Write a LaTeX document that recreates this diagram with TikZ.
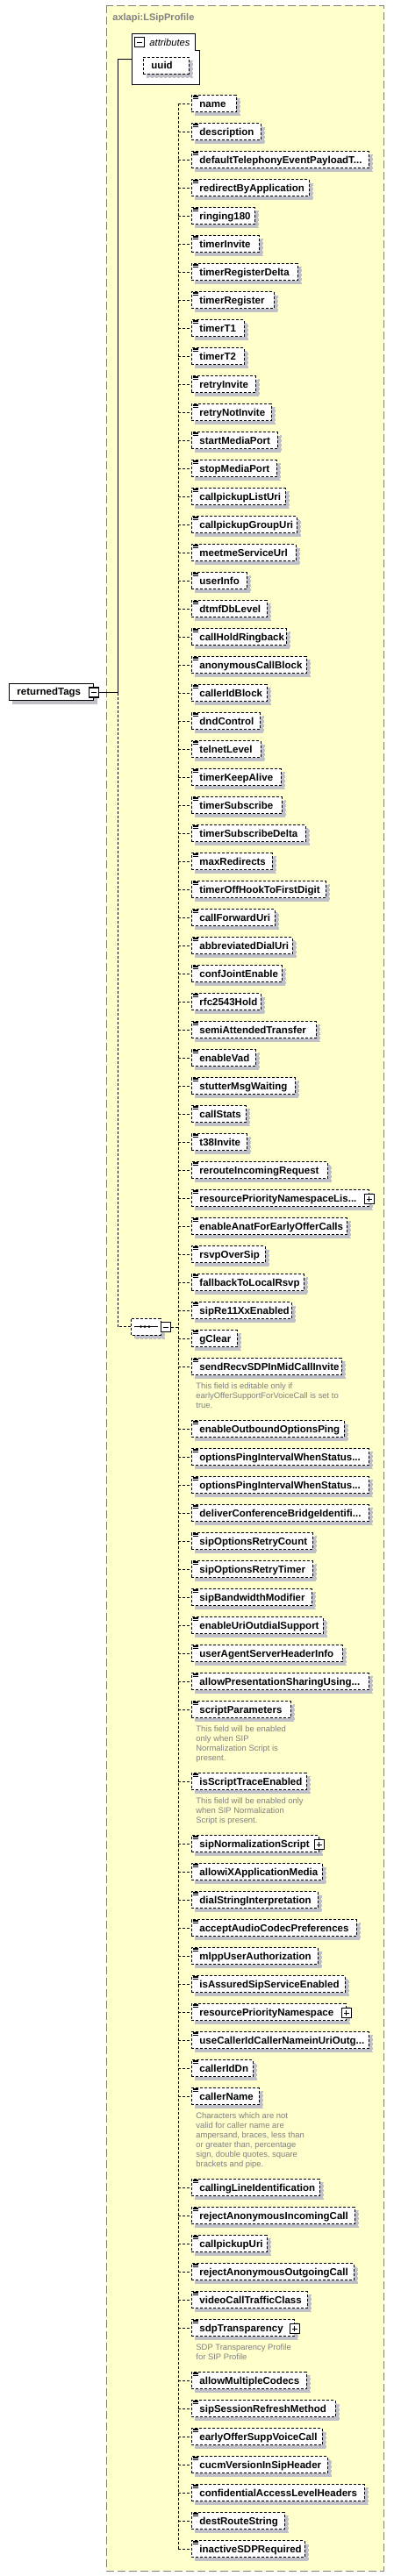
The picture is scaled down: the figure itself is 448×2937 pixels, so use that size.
\documentclass[tikz,border=0pt]{standalone}
\usepackage{fontspec}
\setmainfont{Liberation Sans}
\usetikzlibrary{shadows, shapes.misc}

\definecolor{boxyellow}{RGB}{255,255,204}
\definecolor{framegrey}{RGB}{128,128,128}
\definecolor{shadowgrey}{RGB}{192,192,200}
\definecolor{notegrey}{RGB}{128,128,128}
\newcommand{\cutdots}{...}

\tikzset{
  boxshadow/.style={drop shadow={shadow xshift=4pt, shadow yshift=-4pt, fill=shadowgrey, draw=shadowgrey, opacity=1}},
  elembox/.style={draw, dash pattern=on 3pt off 2pt, fill=white, minimum height=19pt, inner sep=0pt, anchor=west, boxshadow},
  elemtext/.style={font=\fontsize{11.5}{13}\selectfont\bfseries, inner sep=0pt, anchor=base west},
  notetext/.style={font=\fontsize{9.4}{11}\selectfont, text=notegrey, inner sep=0pt, anchor=north west, align=left},
  conn/.style={dash pattern=on 3pt off 2pt},
  expbox/.style={draw, line width=1.1pt, fill=white, minimum size=11pt, inner sep=0pt},
  minusbox/.style={expbox, path picture={\draw[line width=0.9pt] ([xshift=2.5pt]path picture bounding box.west) -- ([xshift=-2.5pt]path picture bounding box.east);}},
  plusbox/.style={expbox, path picture={\draw[line width=0.9pt] ([xshift=2.5pt]path picture bounding box.west) -- ([xshift=-2.5pt]path picture bounding box.east) ([yshift=-2.5pt]path picture bounding box.north) -- ([yshift=2.5pt]path picture bounding box.south);}},
}

\begin{document}
\begin{tikzpicture}[x=1pt, y=-1pt, line width=0.9pt]
        \useasboundingbox (0,0) rectangle (448,2937);

        \draw[framegrey, fill=boxyellow, dash pattern=on 9pt off 4pt] (121,6) rectangle (437,2931); %complex type frame
        \node[font=\fontsize{11}{13}\selectfont\bfseries, text=framegrey, inner sep=0pt, anchor=base west] (title) at (128,23.3) {axlapi:LSipProfile};

        %attributes
        \draw[fill=white] (150,38) -- (222,38) -- (222,57) -- (227,57) -- (227,96) -- (150,96) -- cycle;
        \coordinate (attr) at (150,67);
        \node[minusbox] (attrminus) at (158.8,48.3) {};
        \node[font=\fontsize{11.2}{13}\selectfont\itshape, inner sep=0pt, anchor=base west] (attrlbl) at (170,52.3) {attributes};
        \node[elembox, minimum width=52pt] (uuid) at (163,74.5) {};
        \node[elemtext] (uuidtxt) at ([shift={(9,4.3)}]uuid.west) {uuid};

        %root element
        \node[draw, fill=white, minimum width=96pt, minimum height=19pt, inner sep=0pt, anchor=west, boxshadow] (root) at (10,788.5) {};
        \node[elemtext] (roottxt) at ([shift={(9,4.3)}]root.west) {returnedTags};
        \node[minusbox] (rootminus) at ([yshift=-1pt]root.east) {};

        %sequence
        \node[draw, conn, fill=white, chamfered rectangle, chamfered rectangle xsep=5pt, minimum width=34pt, minimum height=19pt, inner sep=0pt, anchor=west, boxshadow] (seq) at (149,1512.5) {};
        \draw[line width=0.8pt] ([xshift=4pt]seq.west) -- ([xshift=31pt]seq.west);
        \foreach \dx in {11.7,16,21} \fill ([shift={(\dx,0)}]seq.west) circle (1.5pt);
        \node[minusbox] (seqminus) at ([shift={(5.5,0.5)}]seq.east) {};

        \coordinate (trunk) at (134,0);
        \coordinate (spine) at (203,0);

        %child elements: label/width/y
        \foreach \lbl/\w/\y [count=\i] in {
            name/51/118, description/79/150, defaultTelephonyEventPayloadT\cutdots/202/182,
            redirectByApplication/134/214, ringing180/72/246, timerInvite/77/278,
            timerRegisterDelta/121/310, timerRegister/94/342, timerT1/60/374,
            timerT2/60/406, retryInvite/73/438, retryNotInvite/91/470,
            startMediaPort/98/502, stopMediaPort/97/534, callpickupListUri/107/566,
            callpickupGroupUri/120/598, meetmeServiceUrl/119/630, userInfo/63/662,
            dtmfDbLevel/86/694, callHoldRingback/108/726, anonymousCallBlock/131/758,
            callerIdBlock/86/790, dndControl/78/822, telnetLevel/79/854,
            timerKeepAlive/102/886, timerSubscribe/103/918, timerSubscribeDelta/130/950,
            maxRedirects/92/982, timerOffHookToFirstDigit/153/1014, callForwardUri/95/1046,
            abbreviatedDialUri/115/1078, confJointEnable/103/1110, rfc2543Hold/79/1142,
            semiAttendedTransfer/142/1174, enableVad/73/1206, stutterMsgWaiting/118/1238,
            callStats/62/1270, t38Invite/63/1302, rerouteIncomingRequest/155/1334,
            resourcePriorityNamespaceLis\cutdots/202/1366, enableAnatForEarlyOfferCalls/177/1398, rsvpOverSip/84/1430,
            fallbackToLocalRsvp/128/1462, sipRe11XxEnabled/114/1494, gClear/52/1526,
            sendRecvSDPInMidCallInvite/171/1558, enableOutboundOptionsPing/174/1629, optionsPingIntervalWhenStatus\cutdots/202/1661,
            optionsPingIntervalWhenStatus\cutdots/202/1693, deliverConferenceBridgeIdentifi\cutdots/202/1725, sipOptionsRetryCount/138/1757,
            sipOptionsRetryTimer/138/1789, sipBandwidthModifier/137/1821, enableUriOutdialSupport/150/1853,
            userAgentServerHeaderInfo/172/1885, allowPresentationSharingUsing\cutdots/202/1917, scriptParameters/113/1949,
            isScriptTraceEnabled/131/2031, sipNormalizationScript/145/2102, allowiXApplicationMedia/149/2134,
            dialStringInterpretation/144/2166, acceptAudioCodecPreferences/188/2198, mlppUserAuthorization/144/2230,
            isAssuredSipServiceEnabled/175/2262, resourcePriorityNamespace/176/2294, useCallerIdCallerNameinUriOutg\cutdots/202/2326,
            callerIdDn/70/2358, callerName/77/2390, callingLineIdentification/146/2494,
            rejectAnonymousIncomingCall/186/2526, callpickupUri/86/2558, rejectAnonymousOutgoingCall/185/2590,
            videoCallTrafficClass/132/2622, sdpTransparency/117/2654, allowMultipleCodecs/131/2714,
            sipSessionRefreshMethod/164/2746, earlyOfferSuppVoiceCall/149/2778, cucmVersionInSipHeader/155/2810,
            confidentialAccessLevelHeaders/197/2842, destRouteString/106/2874, inactiveSDPRequired/129/2906}{
            \node[elembox, minimum width=\w pt] (e\i) at (218,\y) {};
            \node[elemtext] (t\i) at ([shift={(9,4.3)}]e\i.west) {\lbl};
            \foreach \d in {1,2.6,4.2} \draw[line width=0.6pt] ([shift={(2,\d)}]e\i.north west) -- ++(5.5,0); %list icon
        }

        %expand boxes
        \node[plusbox] (p40) at ([yshift=-1pt]e40.east) {};
        \node[plusbox] (p59) at ([yshift=-1pt]e59.east) {};
        \node[plusbox] (p65) at ([yshift=-1pt]e65.east) {};
        \node[plusbox] (p74) at ([yshift=-1pt]e74.east) {};

        %notes
        \node[notetext] (n46) at ([shift={(5,18)}]e46.west) {This field is editable only if\\earlyOfferSupportForVoiceCall is set to\\true.};
        \node[notetext] (n57) at ([shift={(5,18)}]e57.west) {This field will be enabled\\only when SIP\\Normalization Script is\\present.};
        \node[notetext] (n58) at ([shift={(5,18)}]e58.west) {This field will be enabled only\\when SIP Normalization\\Script is present.};
        \node[notetext] (n68) at ([shift={(5,18)}]e68.west) {Characters which are not\\valid for caller name are\\ampersand, braces, less than\\or greater than, percentage\\sign, double quotes, square\\brackets and pipe.};
        \node[notetext] (n74) at ([shift={(5,18)}]e74.west) {SDP Transparency Profile\\for SIP Profile};

        %connectors
        \draw (rootminus.east) -- (trunk |- rootminus.east) |- (attr);
        \draw[conn] (trunk |- rootminus.east) |- (seq.west);
        \draw[conn] (seqminus.east) -- (spine |- seqminus.east);
        \draw[conn] (spine |- e1.west) -- (spine |- e81.west);
        \foreach \i in {1,...,81} \draw[conn] (spine |- e\i.west) -- (e\i.west);
\end{tikzpicture}
\end{document}
